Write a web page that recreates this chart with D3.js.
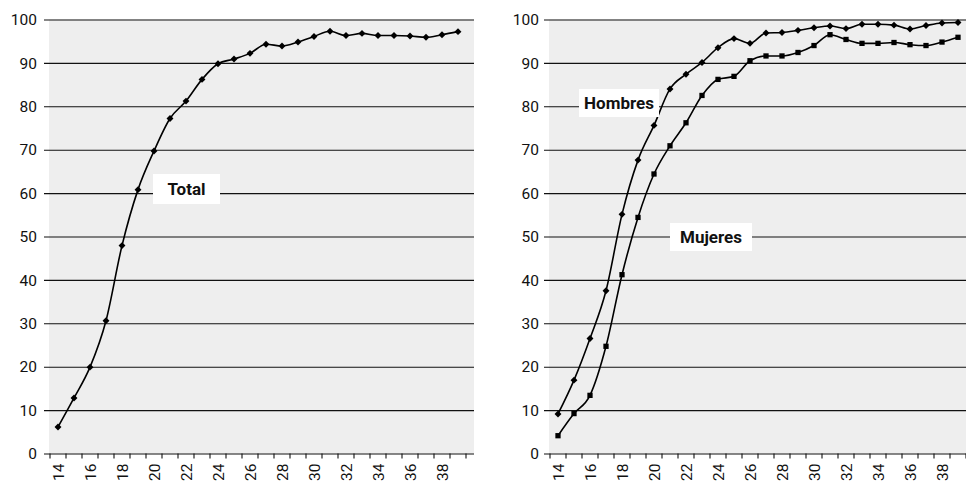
<!DOCTYPE html>
<html><head><meta charset="utf-8">
<script src="https://cdn.jsdelivr.net/npm/d3@7"></script>
<style>
body{margin:0;background:#fff}
svg text{font-family:Roboto, "Open Sans", sans-serif;fill:#111}
</style>
</head><body>
<svg id="c" width="966" height="484"></svg>
<script>
const ages = [14,15,16,17,18,19,20,21,22,23,24,25,26,27,28,29,30,31,32,33,34,35,36,37,38,39];
const total = [6.1,12.8,19.9,30.6,47.9,60.8,69.7,77.2,81.2,86.2,89.8,90.9,92.2,94.3,93.9,94.8,96.1,97.3,96.3,96.8,96.3,96.3,96.2,95.9,96.5,97.2];
const hombres = [9.1,16.9,26.5,37.5,55.1,67.6,75.6,84.0,87.4,90.1,93.5,95.6,94.5,96.9,97.0,97.5,98.1,98.5,97.9,98.9,98.9,98.7,97.8,98.6,99.2,99.3];
const mujeres = [4.1,9.2,13.4,24.7,41.2,54.4,64.4,70.9,76.2,82.5,86.2,86.9,90.5,91.6,91.6,92.4,94.0,96.5,95.4,94.5,94.5,94.7,94.2,94.0,94.8,95.9];
const yTicks = [0,10,20,30,40,50,60,70,80,90,100];
const xTickLabels = [14,16,18,20,22,24,26,28,30,32,34,36,38];

const svg = d3.select("#c");
const y = d3.scaleLinear().domain([0, 100]).range([453.5, 19.5]);

function panel(o) {
  const g = svg.append("g");
  const x = d3.scaleBand().domain(ages).range([o.x0, o.x1]);
  const bw = x.bandwidth();
  const cx = a => x(a) + bw / 2;

  g.append("rect")
    .attr("x", o.bgX0).attr("y", y(100))
    .attr("width", o.bgX1 - o.bgX0).attr("height", y(0) - y(100))
    .attr("fill", "#eeeeee");

  const ya = g.append("g").attr("transform", `translate(${o.gridX0},0)`)
    .call(d3.axisLeft(y).tickValues(yTicks).tickSizeInner(-(o.bgX1 - o.gridX0)).tickSizeOuter(0).tickPadding(o.pad));
  ya.select(".domain").remove();
  ya.selectAll(".tick line").attr("stroke", "#111").attr("stroke-width", 1.1);
  ya.selectAll(".tick text").style("font-size", "15.5px").attr("fill", "#111").attr("dy", "0.34em");

  const bounds = ages.map(a => x(a)).concat([x.range()[1]]);
  g.selectAll("line.xt").data(bounds).join("line")
    .attr("x1", d => d).attr("x2", d => d)
    .attr("y1", y(0)).attr("y2", y(0) + 5)
    .attr("stroke", "#111").attr("stroke-width", 1.1);

  const xa = g.append("g").attr("transform", `translate(0,${y(0)})`)
    .call(d3.axisBottom(x).tickValues(xTickLabels).tickSize(0).tickPadding(0));
  xa.select(".domain").remove();
  xa.selectAll(".tick text")
    .style("font-size", "15.5px").attr("fill", "#111")
    .attr("transform", "rotate(-90)")
    .attr("text-anchor", "end")
    .attr("x", -10).attr("y", 0).attr("dy", "0.36em");

  const line = d3.line().x((d, i) => cx(ages[i])).y(d => y(d)).curve(d3.curveMonotoneX);
  o.series.forEach(s => {
    g.append("path").datum(s.values).attr("d", line)
      .attr("fill", "none").attr("stroke", "#000").attr("stroke-width", 1.6);
    g.selectAll(null).data(s.values).join("path")
      .attr("d", d3.symbol(d3.symbolSquare, s.marker === "diamond" ? 24 : 28))
      .attr("transform", (d, i) => `translate(${cx(ages[i])},${y(d)})` + (s.marker === "diamond" ? " rotate(45)" : ""))
      .attr("fill", "#000");
  });

  o.labels.forEach(l => {
    const lg = g.append("g");
    lg.append("rect").attr("x", l.cx - l.w / 2).attr("y", l.cy - l.h / 2)
      .attr("width", l.w).attr("height", l.h).attr("fill", "#fff");
    lg.append("text").attr("x", l.cx).attr("y", l.cy).attr("dy", "0.36em")
      .attr("text-anchor", "middle").style("font-size", "17px").style("font-weight", "bold")
      .attr("fill", "#111").text(l.text);
  });
}

panel({
  x0: 50, x1: 466, bgX0: 49, bgX1: 474, gridX0: 44, pad: 7,
  series: [{values: total, marker: "diamond"}],
  labels: [{text: "Total", cx: 186.5, cy: 189, w: 67, h: 30}]
});
panel({
  x0: 550, x1: 966, bgX0: 549, bgX1: 966, gridX0: 544, pad: 5,
  series: [{values: hombres, marker: "diamond"}, {values: mujeres, marker: "square"}],
  labels: [{text: "Hombres", cx: 619, cy: 103, w: 80, h: 28}, {text: "Mujeres", cx: 711, cy: 237, w: 82, h: 28}]
});
</script>
</body></html>
